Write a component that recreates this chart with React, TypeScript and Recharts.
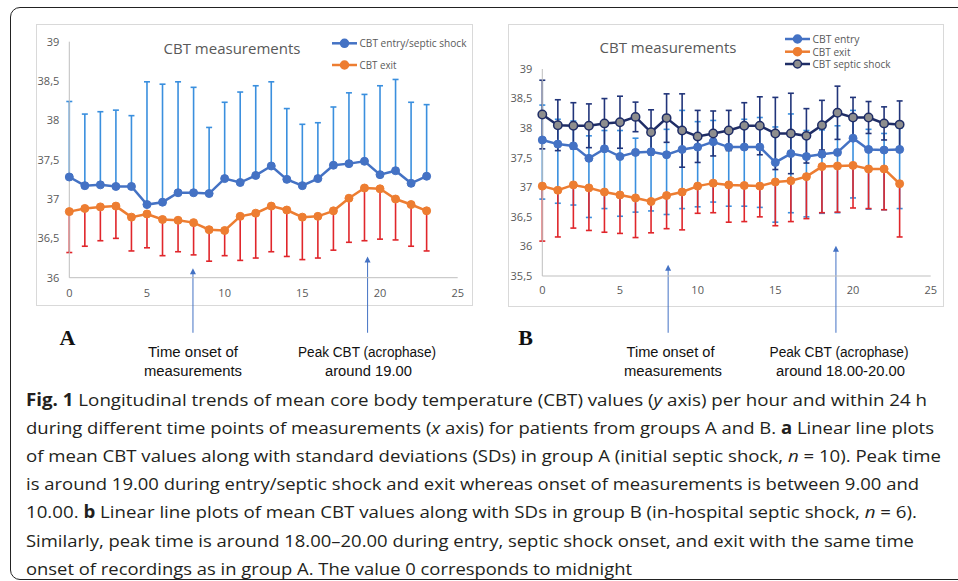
import React from "react";
import { LineChart, Line, XAxis, YAxis, ErrorBar, ReferenceLine } from "recharts";

// hours of the day, 0 = midnight
const hours = [0, 1, 2, 3, 4, 5, 6, 7, 8, 9, 10, 11, 12, 13, 14, 15, 16, 17, 18, 19, 20, 21, 22, 23];
const xTicks = [0, 5, 10, 15, 20, 25];
const yTicksA = [36, 36.5, 37, 37.5, 38, 38.5, 39];
const yTicksB = [35.5, 36, 36.5, 37, 37.5, 38, 38.5, 39];

// group A (initial septic shock)
const aEntryMean = [37.28, 37.17, 37.18, 37.16, 37.16, 36.93, 36.96, 37.08, 37.08, 37.07, 37.26, 37.21, 37.3, 37.42, 37.25, 37.17, 37.26, 37.43, 37.45, 37.48, 37.31, 37.36, 37.2, 37.29];
const aEntrySD = [0.96, 0.91, 0.93, 0.97, 0.9, 1.56, 1.5, 1.41, 1.34, 0.84, 0.97, 1.15, 1.14, 1.07, 0.9, 0.78, 0.71, 0.74, 0.9, 0.85, 1.13, 1.16, 1.03, 0.91];
const aExitMean = [36.84, 36.88, 36.9, 36.91, 36.77, 36.81, 36.74, 36.73, 36.7, 36.61, 36.6, 36.78, 36.82, 36.91, 36.86, 36.77, 36.78, 36.85, 37.01, 37.14, 37.13, 37.0, 36.93, 36.85];
const aExitSD = [0.52, 0.48, 0.43, 0.41, 0.43, 0.43, 0.46, 0.4, 0.41, 0.4, 0.32, 0.56, 0.57, 0.58, 0.59, 0.54, 0.53, 0.5, 0.56, 0.67, 0.64, 0.52, 0.53, 0.51];

// group B (in-hospital septic shock)
const bEntryMean = [37.8, 37.73, 37.7, 37.49, 37.65, 37.52, 37.59, 37.6, 37.55, 37.64, 37.68, 37.77, 37.68, 37.68, 37.68, 37.42, 37.57, 37.52, 37.56, 37.59, 37.83, 37.64, 37.63, 37.64];
const bEntryMinus = [1.0, 1.0, 1.0, 1.0, 1.01, 1.01, 1.01, 1.0, 1.01, 1.0, 1.01, 1.02, 1.0, 1.0, 1.02, 1.01, 1.0, 1.02, 1.0, 1.02, 1.01, 1.01, 1.01, 1.0];
const bEntryPlus = [0.59, 0.42, 0.42, 0.38, 0.31, 0.44, 0.24, 0.3, 0.43, 0.66, 0.43, 0.36, 0.3, 0.47, 0.5, 0.6, 0.67, 0.44, 0.41, 0.45, 0.47, 0.34, 0.28, 0.36];
const bExitMean = [37.02, 36.95, 37.04, 36.99, 36.92, 36.87, 36.82, 36.76, 36.86, 36.92, 37.02, 37.07, 37.04, 37.03, 37.02, 37.09, 37.11, 37.18, 37.35, 37.36, 37.37, 37.31, 37.31, 37.06];
const bExitSD = [0.93, 0.79, 0.73, 0.72, 0.68, 0.65, 0.67, 0.53, 0.56, 0.64, 0.46, 0.5, 0.63, 0.61, 0.52, 0.74, 0.69, 0.71, 0.78, 0.78, 0.72, 0.67, 0.69, 0.9];
const bShockMean = [38.23, 38.05, 38.04, 38.04, 38.08, 38.1, 38.19, 37.93, 38.17, 37.96, 37.86, 37.91, 37.96, 38.04, 38.04, 37.91, 37.91, 37.87, 38.05, 38.26, 38.18, 38.18, 38.08, 38.06];
const bShockSD = [0.58, 0.43, 0.39, 0.37, 0.42, 0.44, 0.25, 0.38, 0.41, 0.62, 0.44, 0.38, 0.34, 0.39, 0.49, 0.61, 0.68, 0.46, 0.42, 0.45, 0.34, 0.27, 0.28, 0.4];

// annotation arrows (hour, arrow tip, bottom end)
const arrowsA = [{ hour: 7.96, tip: 36.12, end: 35.3 }, { hour: 19.2, tip: 36.27, end: 35.3 }];
const arrowsB = [{ hour: 8.1, tip: 35.69, end: 34.54 }, { hour: 18.9, tip: 36.01, end: 34.54 }];

const BLUE = "#4472C4";
const BLUE_ERR = "#3a8fde";
const ORANGE = "#ED7D31";
const RED = "#e0262b";
const NAVY = "#1f2d66";
const NAVY_ERR = "#22357a";
const GREY_TXT = "#595959";
const AXIS = "#bfbfbf";

const dataA = hours.map((h, i) => ({
  hour: h,
  entry: aEntryMean[i],
  entryErr: [0, aEntrySD[i]],
  exit: aExitMean[i],
  exitErr: [aExitSD[i], 0],
}));

const dataB = hours.map((h, i) => ({
  hour: h,
  entry: bEntryMean[i],
  entryErr: [bEntryMinus[i], bEntryPlus[i]],
  exit: bExitMean[i],
  exitErr: [bExitSD[i], 0],
  shock: bShockMean[i],
  shockErr: bShockSD[i],
}));

const fmt = (v: number) => String(v).replace(".", ",");
const tickStyle = { fill: GREY_TXT, fontSize: 11, fontFamily: "Open Sans, sans-serif" };

const Arrow = (props: any) => {
  const { x1, y1, x2, y2 } = props;
  const top = Math.min(y1, y2);
  const bottom = Math.max(y1, y2);
  return (
    <g>
      <line x1={x1} y1={top + 4} x2={x2} y2={bottom} stroke={BLUE} strokeWidth={1} />
      <path d={`M${x1},${top} L${x1 - 3},${top + 6} L${x1 + 3},${top + 6} Z`} fill={BLUE} />
    </g>
  );
};

const PanelA = () => (
  <LineChart
    width={435}
    height={315}
    data={dataA}
    margin={{ top: 16.7, right: 14.3, left: 2.3, bottom: 32.3 }}
    style={{ position: "absolute", left: 37, top: 25 }}
  >
    <XAxis
      dataKey="hour"
      type="number"
      domain={[0, 25]}
      ticks={xTicks}
      interval={0}
      height={30}
      tickLine={false}
      tickMargin={5}
      stroke={AXIS}
      tick={tickStyle}
    />
    <YAxis
      type="number"
      domain={[36, 39]}
      ticks={yTicksA}
      interval={0}
      width={30}
      tickLine={false}
      tickMargin={4}
      tickFormatter={fmt}
      stroke={AXIS}
      tick={tickStyle}
    />
    {arrowsA.map((a, i) => (
      <ReferenceLine
        key={i}
        segment={[{ x: a.hour, y: a.tip }, { x: a.hour, y: a.end }]}
        ifOverflow="visible"
        shape={Arrow}
      />
    ))}
    <Line type="linear" dataKey="entry" stroke={BLUE} strokeWidth={2.5} dot={{ r: 4, fill: BLUE, stroke: BLUE, strokeWidth: 1 }} isAnimationActive={false}>
      <ErrorBar dataKey="entryErr" direction="y" width={3} stroke={BLUE_ERR} strokeWidth={1.6} isAnimationActive={false} />
    </Line>
    <Line type="linear" dataKey="exit" stroke={ORANGE} strokeWidth={2.5} dot={{ r: 4, fill: ORANGE, stroke: ORANGE, strokeWidth: 1 }} isAnimationActive={false}>
      <ErrorBar dataKey="exitErr" direction="y" width={3} stroke={RED} strokeWidth={1.6} isAnimationActive={false} />
    </Line>
  </LineChart>
);

const PanelB = () => (
  <LineChart
    width={434}
    height={315}
    data={dataB}
    margin={{ top: 44, right: 12.3, left: 3.3, bottom: 34 }}
    style={{ position: "absolute", left: 509, top: 25 }}
  >
    <XAxis
      dataKey="hour"
      type="number"
      domain={[0, 25]}
      ticks={xTicks}
      interval={0}
      height={30}
      tickLine={false}
      tickMargin={4}
      stroke={AXIS}
      tick={tickStyle}
    />
    <YAxis
      type="number"
      domain={[35.5, 39]}
      ticks={yTicksB}
      interval={0}
      width={30}
      tickLine={false}
      tickMargin={4}
      tickFormatter={fmt}
      stroke={AXIS}
      tick={tickStyle}
    />
    {arrowsB.map((a, i) => (
      <ReferenceLine
        key={i}
        segment={[{ x: a.hour, y: a.tip }, { x: a.hour, y: a.end }]}
        ifOverflow="visible"
        shape={Arrow}
      />
    ))}
    <Line type="linear" dataKey="entry" stroke={BLUE} strokeWidth={2.5} dot={{ r: 4, fill: BLUE, stroke: BLUE, strokeWidth: 1 }} isAnimationActive={false}>
      <ErrorBar dataKey="entryErr" direction="y" width={3} stroke={BLUE_ERR} strokeWidth={1.6} isAnimationActive={false} />
    </Line>
    <Line type="linear" dataKey="exit" stroke={ORANGE} strokeWidth={2.5} dot={{ r: 4, fill: ORANGE, stroke: ORANGE, strokeWidth: 1 }} isAnimationActive={false}>
      <ErrorBar dataKey="exitErr" direction="y" width={3} stroke={RED} strokeWidth={1.6} isAnimationActive={false} />
    </Line>
    <Line type="linear" dataKey="shock" stroke={NAVY} strokeWidth={2.5} dot={{ r: 4.2, fill: "#8e8e8e", stroke: NAVY, strokeWidth: 1.5 }} isAnimationActive={false}>
      <ErrorBar dataKey="shockErr" direction="y" width={3} stroke={NAVY_ERR} strokeWidth={1.6} isAnimationActive={false} />
    </Line>
  </LineChart>
);

// legend entries: label, colour, marker fill, text width
const legendA = [
  { label: "CBT entry/septic shock", color: BLUE, fill: BLUE, w: 107 },
  { label: "CBT exit", color: ORANGE, fill: ORANGE, w: 37 },
];
const legendB = [
  { label: "CBT entry", color: BLUE, fill: BLUE, w: 47 },
  { label: "CBT exit", color: ORANGE, fill: ORANGE, w: 38 },
  { label: "CBT septic shock", color: NAVY, fill: "#8e8e8e", w: 78 },
];

const Legend = ({ items, x, ys }: { items: typeof legendA; x: number; ys: number[] }) => (
  <g>
    {items.map((it, i) => (
      <g key={it.label}>
        <line x1={x} y1={ys[i]} x2={x + 25} y2={ys[i]} stroke={it.color} strokeWidth={2.5} />
        <circle cx={x + 12.5} cy={ys[i]} r={4} fill={it.fill} stroke={it.color} strokeWidth={1.5} />
        <text
          x={x + 27.5}
          y={ys[i] + 4}
          fontSize={10}
          fill={GREY_TXT}
          fontFamily="Open Sans, sans-serif"
          textLength={it.w}
          lengthAdjust="spacingAndGlyphs"
        >
          {it.label}
        </text>
      </g>
    ))}
  </g>
);

const annoFont = "'Liberation Sans Narrow', 'Liberation Sans', sans-serif";
const annotations = [
  { text: "Time onset of", x: 193, y: 357, w: 90 },
  { text: "measurements", x: 193, y: 375.5, w: 98 },
  { text: "Peak CBT (acrophase)", x: 367, y: 357, w: 138 },
  { text: "around 19.00", x: 368.5, y: 375.5, w: 87 },
  { text: "Time onset of", x: 670.5, y: 357, w: 88 },
  { text: "measurements", x: 673, y: 375.5, w: 98 },
  { text: "Peak CBT (acrophase)", x: 839, y: 357, w: 139 },
  { text: "around 18.00-20.00", x: 840.5, y: 375.5, w: 129 },
];

const capFont = "'Open Sans', sans-serif";
const B = ({ children }: { children: string }) => <tspan fontWeight="bold">{children}</tspan>;
const I = ({ children }: { children: string }) => <tspan fontStyle="italic">{children}</tspan>;
const captionLines: { w: number; content: React.ReactNode }[] = [
  { w: 901, content: <><B>Fig. 1</B>{" Longitudinal trends of mean core body temperature (CBT) values ("}<I>y</I>{" axis) per hour and within 24 h"}</> },
  { w: 908, content: <>{"during different time points of measurements ("}<I>x</I>{" axis) for patients from groups A and B. "}<B>a</B>{" Linear line plots"}</> },
  { w: 915, content: <>{"of mean CBT values along with standard deviations (SDs) in group A (initial septic shock, "}<I>n</I>{" = 10). Peak time"}</> },
  { w: 893, content: <>{"is around 19.00 during entry/septic shock and exit whereas onset of measurements is between 9.00 and"}</> },
  { w: 891, content: <>{"10.00. "}<B>b</B>{" Linear line plots of mean CBT values along with SDs in group B (in-hospital septic shock, "}<I>n</I>{" = 6)."}</> },
  { w: 888, content: <>{"Similarly, peak time is around 18.00\u201320.00 during entry, septic shock onset, and exit with the same time"}</> },
  { w: 606, content: <>{"onset of recordings as in group A. The value 0 corresponds to midnight"}</> },
];

const Overlay = () => (
  <svg width={958} height={581} style={{ position: "absolute", left: 0, top: 0, pointerEvents: "none" }}>
    <text x={232} y={54} textAnchor="middle" fontSize={15} fill={GREY_TXT} fontFamily="Open Sans, sans-serif">
      CBT measurements
    </text>
    <text x={668} y={52.5} textAnchor="middle" fontSize={15} fill={GREY_TXT} fontFamily="Open Sans, sans-serif">
      CBT measurements
    </text>
    <Legend items={legendA} x={332} ys={[43.3, 65]} />
    <Legend items={legendB} x={785} ys={[39, 51.7, 64]} />
    <text x={67.5} y={345} textAnchor="middle" fontSize={22} fontWeight="bold" fontFamily="'Liberation Serif', serif" fill="#111">A</text>
    <text x={525.6} y={345} textAnchor="middle" fontSize={22} fontWeight="bold" fontFamily="'Liberation Serif', serif" fill="#111">B</text>
    {annotations.map((a, i) => (
      <text key={i} x={a.x} y={a.y} textAnchor="middle" fontSize={14} fill="#111" fontFamily={annoFont} textLength={a.w} lengthAdjust="spacingAndGlyphs">
        {a.text}
      </text>
    ))}
    {captionLines.map((l, i) => (
      <text
        key={i}
        x={26}
        y={406 + i * 28.1}
        fontSize={17}
        fill="#231f20"
        fontFamily={capFont}
        textLength={l.w}
        lengthAdjust="spacingAndGlyphs"
        style={{ whiteSpace: "pre" }}
      >
        {l.content}
      </text>
    ))}
  </svg>
);

export default function App() {
  return (
    <div style={{ position: "absolute", left: 0, top: 0, width: 958, height: 581, background: "#fff", overflow: "hidden" }}>
      <div style={{ position: "absolute", left: 10, top: 7, width: 1000, height: 571, border: "1.5px solid #222", borderRadius: 10 }} />
      <div style={{ position: "absolute", left: 36, top: 24, width: 435, height: 280, border: "1px solid #d9d9d9" }} />
      <div style={{ position: "absolute", left: 508, top: 24, width: 434, height: 281, border: "1px solid #d9d9d9" }} />
      <PanelA />
      <PanelB />
      <Overlay />
    </div>
  );
}
